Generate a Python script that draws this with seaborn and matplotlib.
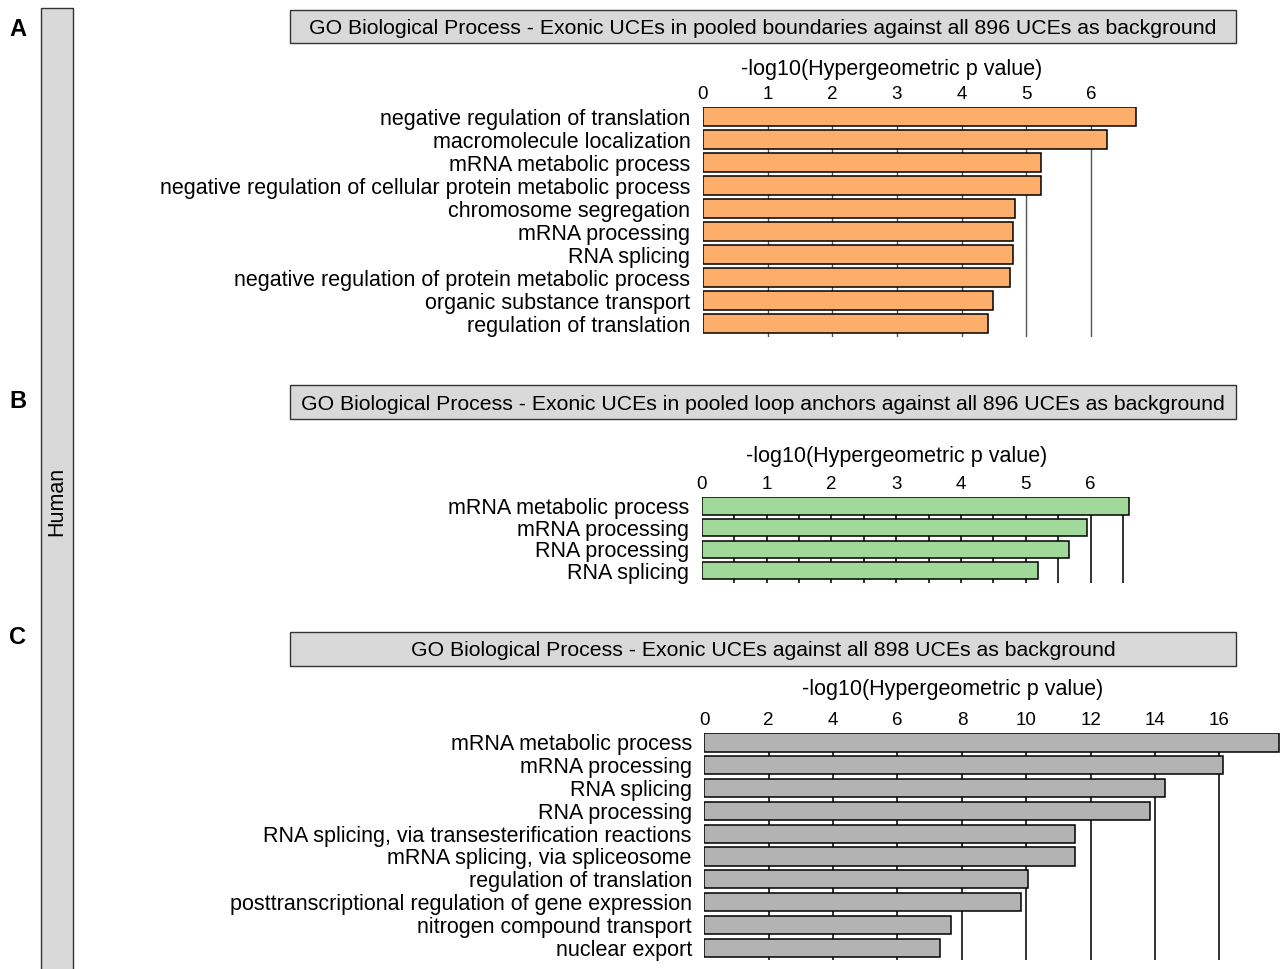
import matplotlib
matplotlib.use("Agg")
import matplotlib.pyplot as plt
from matplotlib.patches import Rectangle
from matplotlib.transforms import offset_copy
import seaborn as sns

# ---- data -------------------------------------------------------------
terms_a = [
    "negative regulation of translation",
    "macromolecule localization",
    "mRNA metabolic process",
    "negative regulation of cellular protein metabolic process",
    "chromosome segregation",
    "mRNA processing",
    "RNA splicing",
    "negative regulation of protein metabolic process",
    "organic substance transport",
    "regulation of translation",
]
scores_a = [6.69, 6.24, 5.23, 5.23, 4.83, 4.79, 4.79, 4.74, 4.48, 4.41]

terms_b = [
    "mRNA metabolic process",
    "mRNA processing",
    "RNA processing",
    "RNA splicing",
]
scores_b = [6.59, 5.94, 5.67, 5.18]

terms_c = [
    "mRNA metabolic process",
    "mRNA processing",
    "RNA splicing",
    "RNA processing",
    "RNA splicing, via transesterification reactions",
    "mRNA splicing, via spliceosome",
    "regulation of translation",
    "posttranscriptional regulation of gene expression",
    "nitrogen compound transport",
    "nuclear export",
]
scores_c = [17.84, 16.10, 14.31, 13.83, 11.51, 11.51, 10.05, 9.84, 7.66, 7.32]

titles = [
    "GO Biological Process - Exonic UCEs in pooled boundaries against all 896 UCEs as background",
    "GO Biological Process - Exonic UCEs in pooled loop anchors against all 896 UCEs as background",
    "GO Biological Process - Exonic UCEs against all 898 UCEs as background",
]
panel_letters = ["A", "B", "C"]
ticks_a = [0, 1, 2, 3, 4, 5, 6]
ticks_b = [0, 1, 2, 3, 4, 5, 6]
ticks_c = [0, 2, 4, 6, 8, 10, 12, 14, 16]
grid_a = [1, 2, 3, 4, 5, 6]
grid_b = [0.5, 1, 1.5, 2, 2.5, 3, 3.5, 4, 4.5, 5, 5.5, 6, 6.5]
grid_c = [2, 4, 6, 8, 10, 12, 14, 16]
x_label = "-log10(Hypergeometric p value)"
side_label = "Human"

# ---- styling ----------------------------------------------------------
sns.set_theme(style="white")
plt.rcParams["font.family"] = ["Liberation Sans", "DejaVu Sans"]

W, H = 1282, 969
fig = plt.figure(figsize=(W / 100, H / 100), dpi=100)


def fig_box(x0, y0, x1, y1):
    """Pixel box (top-left origin) -> figure fraction rect."""
    return [x0 / W, 1 - y1 / H, (x1 - x0) / W, (y1 - y0) / H]


def bar_panel(rect, terms, scores, color, ticks, grid, xmax, ybottom,
              grid_color, grid_lw, label_x, label_pad):
    ax = fig.add_axes(rect)
    sns.barplot(x=scores, y=terms, orient="h", color=color, saturation=1,
                edgecolor="black", linewidth=1.1, width=0.8, ax=ax, zorder=3)
    ax.set_xlim(0, xmax)
    ax.set_ylim(ybottom, -0.4)
    ax.xaxis.tick_top()
    ax.xaxis.set_label_position("top")
    ax.xaxis.remove_overlapping_locs = False
    ax.set_xticks(ticks)
    ax.set_xticklabels([str(t) for t in ticks])
    ax.set_xticks(grid, minor=True)
    ax.grid(False)
    ax.grid(True, which="minor", axis="x", color=grid_color, linewidth=grid_lw)
    ax.set_axisbelow(True)
    ax.tick_params(axis="both", which="both", length=0)
    ax.tick_params(axis="x", labelsize=13.5, pad=3, colors="black")
    ax.tick_params(axis="y", labelsize=15.5, pad=9, colors="black")
    ax.set_xlabel(x_label, fontsize=15.5, color="black")
    ax.set_ylabel("")
    for s in ax.spines.values():
        s.set_visible(False)
    ax.patch.set_alpha(0)
    # axis title sits a fixed pixel distance above the top edge
    ax.xaxis.set_label_coords(label_x, 1.0)
    ax.xaxis.label.set_va("bottom")
    ax.xaxis.label.set_transform(
        offset_copy(ax.transAxes, fig=fig, x=0, y=label_pad, units="dots"))
    ax.xaxis.label.set_position((label_x, 1.0))
    return ax


bar_panel(fig_box(703, 107.3, 1137.6, 336.7), terms_a, scores_a, "#fdae6b",
          ticks_a, grid_a, 6.72, 9.57, "#555555", 1.0, 0.435, 27)
bar_panel(fig_box(701.7, 497.3, 1130.9, 583.3), terms_b, scores_b, "#a1d99b",
          ticks_b, grid_b, 6.62, 3.58, "#111111", 1.2, 0.455, 30)
bar_panel(fig_box(704.3, 733.3, 1280.0, 960.0), terms_c, scores_c, "#b3b3b3",
          ticks_c, grid_c, 17.88, 9.54, "#111111", 1.2, 0.432, 33)

# ---- title boxes ------------------------------------------------------
title_rows = [(10, 43), (385, 419), (632, 666)]
for (y0, y1), title in zip(title_rows, titles):
    r = fig_box(290, y0, 1236, y1)
    fig.add_artist(Rectangle((r[0], r[1]), r[2], r[3], transform=fig.transFigure,
                             facecolor="#d9d9d9", edgecolor="#333333", linewidth=1.0))
    fig.text((290 + 1236) / 2 / W, 1 - ((y0 + y1) / 2 + 2) / H, title,
             ha="center", va="center", fontsize=15.3, color="black")

# ---- side strip -------------------------------------------------------
r = fig_box(41, 8, 73, 975)
fig.add_artist(Rectangle((r[0], r[1]), r[2], r[3], transform=fig.transFigure,
                         facecolor="#d9d9d9", edgecolor="#333333", linewidth=1.0,
                         clip_on=False))
fig.text(57 / W, 1 - 501 / H, side_label, rotation=90, ha="center", va="center",
         fontsize=15.5, color="black")

# ---- panel letters ----------------------------------------------------
for letter, y in zip(panel_letters, [29, 401, 638]):
    fig.text(18 / W, 1 - y / H, letter, ha="center", va="center",
             fontsize=17, fontweight="bold", color="black")

fig.savefig("out.png", dpi=100)
